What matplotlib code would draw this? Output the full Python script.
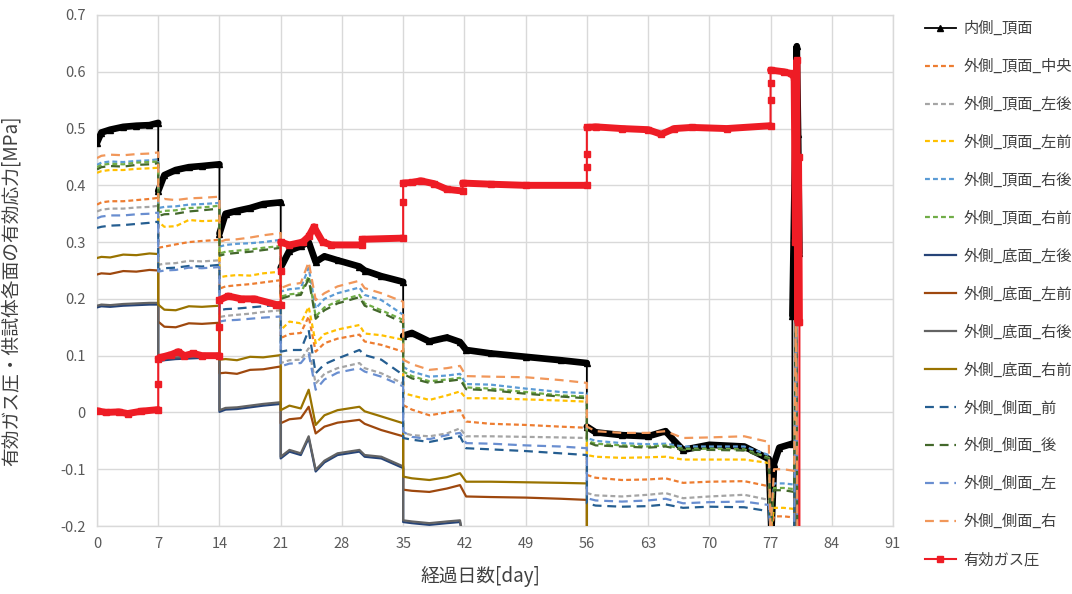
import numpy as np
import matplotlib
matplotlib.use("Agg")
import matplotlib.pyplot as plt
from matplotlib.ticker import MultipleLocator, FuncFormatter

plt.rcParams['font.family'] = ['Noto Sans CJK JP', 'DejaVu Sans']
plt.rcParams['axes.unicode_minus'] = False

# ---------------------------------------------------------------- data
# elapsed days shared by the outer-surface strain gauges
DAYS = [0, 0.5, 1.5, 3, 4.5, 6, 7,
        7, 7.7, 9, 10.5, 12, 14,
        14, 14.7, 16, 17.5, 19, 21,
        21, 22, 23.3, 24.2, 25, 26, 27.5, 30, 30.6, 32.5, 35,
        35, 36, 38, 40, 41.5, 42.2, 45, 49, 53, 56,
        56, 57, 60, 63, 65, 67, 70, 74, 76.8,
        77, 77.4, 78.5, 79.7, 79.9, 80.1]

TOP_CENTER = [0.366, 0.370, 0.372, 0.372, 0.374, 0.376, 0.378,
              0.290, 0.292, 0.296, 0.300, 0.302, 0.304,
              0.218, 0.222, 0.224, 0.226, 0.229, 0.233,
              0.131, 0.138, 0.140, 0.169, 0.107, 0.122, 0.130, 0.137, 0.125, 0.119, 0.107,
              0.013, 0.005, -0.005, 0.000, 0.004, -0.016, -0.020, -0.022, -0.025, -0.027,
              -0.110, -0.115, -0.119, -0.118, -0.116, -0.124, -0.122, -0.121, -0.130,
              -0.21, -0.183, -0.183, -0.185, 0.17, -0.25]
TOP_LEFT_REAR = [0.354, 0.357, 0.359, 0.359, 0.361, 0.362, 0.364,
                 0.260, 0.262, 0.263, 0.267, 0.266, 0.268,
                 0.168, 0.170, 0.172, 0.174, 0.177, 0.180,
                 0.087, 0.092, 0.093, 0.113, 0.051, 0.068, 0.078, 0.087, 0.078, 0.069, 0.051,
                 -0.036, -0.040, -0.042, -0.037, -0.028, -0.042, -0.042, -0.043, -0.044, -0.045,
                 -0.142, -0.146, -0.148, -0.145, -0.142, -0.151, -0.148, -0.145, -0.154,
                 -0.21, -0.22, -0.22, -0.22, 0.17, -0.25]
TOP_LEFT_FRONT = [0.422, 0.425, 0.427, 0.427, 0.429, 0.430, 0.431,
                  0.336, 0.327, 0.328, 0.339, 0.337, 0.338,
                  0.238, 0.240, 0.242, 0.241, 0.245, 0.248,
                  0.145, 0.160, 0.157, 0.186, 0.122, 0.138, 0.146, 0.154, 0.139, 0.136, 0.128,
                  0.034, 0.030, 0.022, 0.030, 0.037, 0.025, 0.025, 0.023, 0.021, 0.019,
                  -0.075, -0.078, -0.080, -0.079, -0.078, -0.083, -0.083, -0.083, -0.089,
                  -0.21, -0.168, -0.168, -0.170, 0.17, -0.25]
TOP_RIGHT_REAR = [0.436, 0.440, 0.442, 0.441, 0.443, 0.444, 0.446,
                  0.360, 0.362, 0.363, 0.366, 0.367, 0.369,
                  0.292, 0.295, 0.297, 0.298, 0.300, 0.304,
                  0.213, 0.217, 0.219, 0.255, 0.183, 0.200, 0.210, 0.220, 0.207, 0.198, 0.172,
                  0.080, 0.072, 0.063, 0.065, 0.068, 0.050, 0.049, 0.042, 0.036, 0.034,
                  -0.045, -0.050, -0.054, -0.056, -0.055, -0.060, -0.060, -0.060, -0.075,
                  -0.21, -0.125, -0.125, -0.127, 0.17, -0.25]
TOP_RIGHT_FRONT = [0.432, 0.436, 0.438, 0.437, 0.440, 0.441, 0.442,
                   0.352, 0.355, 0.356, 0.360, 0.361, 0.364,
                   0.280, 0.283, 0.285, 0.287, 0.290, 0.293,
                   0.204, 0.208, 0.210, 0.240, 0.169, 0.185, 0.196, 0.207, 0.192, 0.180, 0.163,
                   0.072, 0.064, 0.055, 0.058, 0.061, 0.044, 0.042, 0.036, 0.030, 0.028,
                   -0.050, -0.055, -0.058, -0.060, -0.058, -0.064, -0.064, -0.065, -0.080,
                   -0.21, -0.133, -0.133, -0.135, 0.17, -0.25]
BOTTOM_LEFT_REAR = [0.185, 0.187, 0.186, 0.188, 0.189, 0.190, 0.190,
                    0.090, 0.092, 0.094, 0.095, 0.096, 0.097,
                    0.001, 0.005, 0.006, 0.009, 0.012, 0.015,
                    -0.081, -0.069, -0.075, -0.045, -0.104, -0.088, -0.075, -0.069, -0.078, -0.081, -0.098,
                    -0.193, -0.195, -0.198, -0.195, -0.193, -0.25, -0.25, -0.25, -0.25, -0.25,
                    -0.25, -0.25, -0.25, -0.25, -0.25, -0.25, -0.25, -0.25, -0.25,
                    -0.25, -0.25, -0.25, -0.25, 0.17, -0.25]
BOTTOM_LEFT_FRONT = [0.243, 0.245, 0.244, 0.249, 0.248, 0.251, 0.250,
                     0.160, 0.151, 0.150, 0.157, 0.156, 0.158,
                     0.069, 0.070, 0.068, 0.075, 0.076, 0.081,
                     -0.019, -0.012, -0.010, 0.010, -0.037, -0.025, -0.018, -0.013, -0.020, -0.031, -0.042,
                     -0.136, -0.138, -0.140, -0.134, -0.128, -0.148, -0.149, -0.150, -0.152, -0.154,
                     -0.25, -0.25, -0.25, -0.25, -0.25, -0.25, -0.25, -0.25, -0.25,
                     -0.25, -0.25, -0.25, -0.25, 0.17, -0.25]
BOTTOM_RIGHT_REAR = [0.188, 0.190, 0.189, 0.191, 0.192, 0.193, 0.193,
                     0.093, 0.095, 0.097, 0.098, 0.099, 0.100,
                     0.004, 0.008, 0.009, 0.012, 0.015, 0.018,
                     -0.078, -0.066, -0.072, -0.042, -0.101, -0.085, -0.072, -0.066, -0.075, -0.078, -0.095,
                     -0.190, -0.192, -0.195, -0.192, -0.190, -0.25, -0.25, -0.25, -0.25, -0.25,
                     -0.25, -0.25, -0.25, -0.25, -0.25, -0.25, -0.25, -0.25, -0.25,
                     -0.25, -0.25, -0.25, -0.25, 0.17, -0.25]
BOTTOM_RIGHT_FRONT = [0.272, 0.274, 0.273, 0.278, 0.277, 0.280, 0.279,
                      0.190, 0.181, 0.180, 0.187, 0.186, 0.188,
                      0.093, 0.094, 0.092, 0.098, 0.097, 0.101,
                      0.004, 0.012, 0.007, 0.040, -0.022, -0.005, 0.004, 0.010, 0.002, -0.007, -0.019,
                      -0.113, -0.116, -0.119, -0.114, -0.107, -0.122, -0.122, -0.123, -0.124, -0.125,
                      -0.25, -0.25, -0.25, -0.25, -0.25, -0.25, -0.25, -0.25, -0.25,
                      -0.25, -0.25, -0.25, -0.25, 0.17, -0.25]
SIDE_FRONT = [0.325, 0.327, 0.329, 0.330, 0.332, 0.334, 0.336,
              0.252, 0.254, 0.255, 0.258, 0.257, 0.260,
              0.180, 0.182, 0.183, 0.185, 0.187, 0.190,
              0.107, 0.110, 0.110, 0.145, 0.069, 0.085, 0.095, 0.110, 0.101, 0.093, 0.066,
              -0.045, -0.048, -0.052, -0.046, -0.042, -0.063, -0.065, -0.068, -0.072, -0.075,
              -0.160, -0.164, -0.166, -0.165, -0.162, -0.168, -0.166, -0.167, -0.174,
              -0.21, -0.22, -0.22, -0.22, 0.17, -0.25]
SIDE_REAR = [0.428, 0.432, 0.434, 0.433, 0.436, 0.437, 0.439,
             0.346, 0.349, 0.350, 0.354, 0.356, 0.359,
             0.276, 0.279, 0.281, 0.283, 0.286, 0.290,
             0.200, 0.205, 0.207, 0.235, 0.165, 0.180, 0.192, 0.203, 0.188, 0.176, 0.158,
             0.068, 0.060, 0.052, 0.055, 0.058, 0.041, 0.039, 0.033, 0.028, 0.025,
             -0.052, -0.058, -0.060, -0.062, -0.060, -0.066, -0.066, -0.067, -0.082,
             -0.21, -0.137, -0.137, -0.140, 0.17, -0.25]
SIDE_LEFT = [0.342, 0.345, 0.347, 0.347, 0.349, 0.350, 0.352,
             0.248, 0.250, 0.251, 0.255, 0.254, 0.256,
             0.160, 0.162, 0.163, 0.165, 0.167, 0.169,
             0.081, 0.086, 0.087, 0.104, 0.040, 0.058, 0.070, 0.078, 0.072, 0.063, 0.046,
             -0.034, -0.043, -0.047, -0.040, -0.036, -0.054, -0.055, -0.058, -0.060, -0.063,
             -0.151, -0.155, -0.157, -0.155, -0.152, -0.160, -0.158, -0.157, -0.163,
             -0.21, -0.22, -0.22, -0.22, 0.17, -0.25]
SIDE_RIGHT = [0.448, 0.452, 0.454, 0.453, 0.455, 0.456, 0.458,
              0.372, 0.376, 0.374, 0.377, 0.378, 0.380,
              0.300, 0.304, 0.305, 0.308, 0.312, 0.316,
              0.219, 0.225, 0.228, 0.265, 0.198, 0.210, 0.222, 0.232, 0.219, 0.210, 0.195,
              0.093, 0.085, 0.075, 0.078, 0.082, 0.064, 0.063, 0.062, 0.057, 0.052,
              -0.025, -0.033, -0.036, -0.036, -0.033, -0.045, -0.044, -0.042, -0.052,
              -0.21, -0.100, -0.100, -0.103, 0.17, -0.25]

# inner top surface
INNER_DAYS = [0, 0.5, 1.5, 3, 4.5, 6, 7,
              7, 7.7, 9, 10.5, 12, 14,
              14, 14.7, 16, 17.5, 19, 21,
              21, 22, 23.3, 24.2, 25, 26, 27.5, 30, 30.6, 32.5, 35,
              35, 36, 38, 40, 41.5, 42.2, 45, 49, 53, 56,
              56, 57, 60, 63, 65, 66, 67, 70, 74, 76.8,
              77.1, 77.4, 78.0, 79.5, 79.5, 80.0, 80.15, 80.3]
INNER_TOP = [0.475, 0.493, 0.498, 0.503, 0.505, 0.506, 0.510,
             0.390, 0.418, 0.427, 0.432, 0.434, 0.437,
             0.315, 0.350, 0.355, 0.360, 0.367, 0.370,
             0.255, 0.285, 0.293, 0.300, 0.265, 0.275, 0.268, 0.257, 0.250, 0.240, 0.230,
             0.135, 0.140, 0.125, 0.132, 0.124, 0.110, 0.104, 0.098, 0.092, 0.087,
             -0.025, -0.035, -0.040, -0.042, -0.033, -0.050, -0.066, -0.057, -0.060, -0.082,
             -0.21, -0.090, -0.062, -0.055, 0.170, 0.645, 0.490, 0.280]

# effective gas pressure
GAS_DAYS = [0, 1, 2.5, 3.5, 5, 7,
            7, 7, 7.3, 8.5, 9.3, 10, 11, 12, 14,
            14, 14, 15, 16.5, 18, 20.5, 21,
            21, 21, 22, 23.5, 24.2, 24.8, 25.8, 26.8, 30.3, 30.3, 35,
            35, 35, 36, 37, 38.5, 40, 41.8, 41.8, 45, 49, 56,
            56, 56, 56, 57, 60, 63, 64.5, 66, 68, 72, 77,
            77, 77, 77, 78.5, 79.3, 79.7, 79.85, 80.0, 80.1, 80.2, 80.3, 80.3]
GAS = [0.003, 0.000, 0.001, -0.002, 0.002, 0.005,
       0.050, 0.095, 0.097, 0.102, 0.107, 0.100, 0.104, 0.100, 0.100,
       0.150, 0.198, 0.205, 0.200, 0.200, 0.190, 0.190,
       0.250, 0.300, 0.295, 0.300, 0.310, 0.327, 0.300, 0.295, 0.295, 0.305, 0.307,
       0.370, 0.404, 0.405, 0.408, 0.403, 0.393, 0.390, 0.404, 0.402, 0.400, 0.400,
       0.433, 0.455, 0.502, 0.503, 0.500, 0.498, 0.490, 0.500, 0.502, 0.500, 0.505,
       0.550, 0.580, 0.603, 0.600, 0.597, 0.590, 0.300, 0.620, 0.160, 0.450, 0.160, -0.250]

LABELS = ['内側_頂面', '外側_頂面_中央', '外側_頂面_左後', '外側_頂面_左前',
          '外側_頂面_右後', '外側_頂面_右前', '外側_底面_左後', '外側_底面_左前',
          '外側_底面_右後', '外側_底面_右前', '外側_側面_前', '外側_側面_後',
          '外側_側面_左', '外側_側面_右', '有効ガス圧']
X_TICKS = list(range(0, 92, 7))

# ---------------------------------------------------------------- styles
SHORT = (0, (2.2, 1.4))
LONG = (0, (4.0, 2.6))
outer = [
    (TOP_CENTER, '#ED7D31', SHORT),
    (TOP_LEFT_REAR, '#A5A5A5', SHORT),
    (TOP_LEFT_FRONT, '#FFC000', SHORT),
    (TOP_RIGHT_REAR, '#5B9BD5', SHORT),
    (TOP_RIGHT_FRONT, '#70AD47', SHORT),
    (BOTTOM_LEFT_REAR, '#264478', '-'),
    (BOTTOM_LEFT_FRONT, '#9E480E', '-'),
    (BOTTOM_RIGHT_REAR, '#636363', '-'),
    (BOTTOM_RIGHT_FRONT, '#997300', '-'),
    (SIDE_FRONT, '#255E91', LONG),
    (SIDE_REAR, '#43682B', LONG),
    (SIDE_LEFT, '#698ED0', LONG),
    (SIDE_RIGHT, '#F1975A', LONG),
]


def broken_at_jumps(x, y):
    """Insert gaps where consecutive samples share the same day (step changes)."""
    xs, ys = [x[0]], [y[0]]
    for i in range(1, len(x)):
        if x[i] == x[i - 1]:
            xs.append(np.nan)
            ys.append(np.nan)
        xs.append(x[i])
        ys.append(y[i])
    return xs, ys


fig = plt.figure(figsize=(10.72, 5.94), dpi=100)
ax = fig.add_axes([97 / 1072, 68 / 594, 796 / 1072, 511 / 594])

handles = []

# inner gauge: thin trace with markers plus a heavy stroke along plateaus
h_inner, = ax.plot(INNER_DAYS, INNER_TOP, color='black', lw=1.3,
                   marker='^', ms=4.5, zorder=3)
bx, by = broken_at_jumps(INNER_DAYS, INNER_TOP)
ax.plot(bx, by, color='black', lw=4.8, solid_capstyle='round',
        solid_joinstyle='round', zorder=3)
handles.append(h_inner)

for vals, col, ls in outer:
    h, = ax.plot(DAYS, vals, color=col, lw=1.6, linestyle=ls, zorder=4)
    handles.append(h)

h_gas, = ax.plot(GAS_DAYS, GAS, color='#EE1C25', lw=1.5, marker='s', ms=4.8,
                 zorder=6)
gx, gy = broken_at_jumps(GAS_DAYS, GAS)
ax.plot(gx, gy, color='#EE1C25', lw=5.0, solid_capstyle='round',
        solid_joinstyle='round', zorder=6)
handles.append(h_gas)

ax.set_xlim(0, 91)
ax.set_ylim(-0.2, 0.7)
ax.set_xticks(X_TICKS)
ax.yaxis.set_major_locator(MultipleLocator(0.1))
ax.yaxis.set_major_formatter(
    FuncFormatter(lambda v, p: '0' if abs(v) < 1e-9 else f'{v:.1f}'))
ax.grid(True, color='#D9D9D9', lw=1.0, zorder=0)
ax.set_axisbelow(True)
for s in ax.spines.values():
    s.set_color('#D9D9D9')
    s.set_linewidth(1.0)
ax.tick_params(axis='both', length=0, labelsize=10.5, colors='#595959', pad=8)

ax.set_xlabel('経過日数[day]', fontsize=13.5, color='#404040')
ax.xaxis.set_label_coords(0.482, -0.078)
ax.set_ylabel('有効ガス圧・供試体各面の有効応力[MPa]', fontsize=13.5,
              color='#404040')
ax.yaxis.set_label_coords(-0.095, 0.46)

fig.legend(handles, LABELS, loc='upper left',
           bbox_to_anchor=(925 / 1072, 1 - 20 / 594), frameon=False,
           fontsize=11, labelspacing=1.37, handlelength=2.0,
           handletextpad=0.5, borderaxespad=0, borderpad=0,
           labelcolor='#404040')

fig.savefig('out.png', dpi=100)
